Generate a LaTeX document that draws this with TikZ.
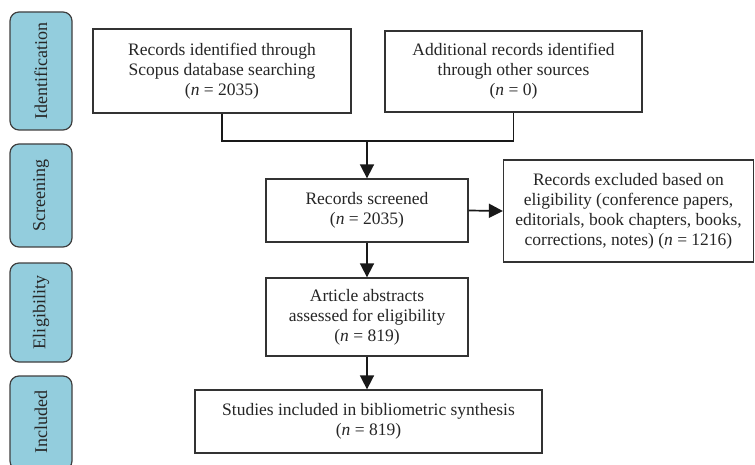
\documentclass[tikz,border=0pt]{standalone}
\usepackage{fontspec}
\setmainfont{Liberation Serif}
\usetikzlibrary{arrows.meta}
\definecolor{sidefill}{HTML}{93CDDD}
\definecolor{sideline}{HTML}{3F3F3F}
\definecolor{boxline}{HTML}{333333}
\begin{document}
\begin{tikzpicture}[x=1pt,y=-1pt,
  sidebox/.style={draw=sideline,fill=sidefill,line width=1.2pt,rounded corners=9pt},
  sidelabel/.style={rotate=90,font=\fontsize{18}{20}\selectfont,text=black!85},
  flowbox/.style={draw=boxline,line width=1.3pt,fill=white,inner sep=0pt,align=center,
    font=\fontsize{17.5}{20}\selectfont,text=black!85},
  conn/.style={line width=1.7pt,draw=black!90},
  arr/.style={conn,-{Triangle[length=14pt,width=14pt]}}]
\useasboundingbox (0,0) rectangle (755,465);
\clip (0,0) rectangle (755,465);
% side stage boxes
\draw[sidebox] (10,12) rectangle (72,130);
\node[sidelabel] (lid) at (41,71) {Identification};
\draw[sidebox] (10,144) rectangle (72,247);
\node[sidelabel] (lsc) at (41,195.5) {Screening};
\draw[sidebox] (10,263) rectangle (72,362);
\node[sidelabel] (lel) at (41,312.5) {Eligibility};
\draw[sidebox] (10,376) rectangle (72,470);
\node[sidelabel] (lin) at (41,422) {Included};
% flow boxes
\node[flowbox,minimum width=258pt,minimum height=84pt] (b1) at (222,71)
  {Records identified through\\Scopus database searching\\(\textit{n} = 2035)};
\node[flowbox,minimum width=257pt,minimum height=81pt] (b2) at (513.5,71.5)
  {Additional records identified\\through other sources\\(\textit{n} = 0)};
\node[flowbox,minimum width=202pt,minimum height=63pt] (scr) at (367,210.5)
  {Records screened\\(\textit{n} = 2035)};
\node[flowbox,minimum width=250pt,minimum height=102pt] (exc) at (628.5,211)
  {Records excluded based on\\eligibility (conference papers,\\editorials, book chapters, books,\\corrections, notes) (\textit{n} = 1216)};
\node[flowbox,minimum width=202pt,minimum height=78pt] (eli) at (367,317)
  {Article abstracts\\assessed for eligibility\\(\textit{n} = 819)};
\node[flowbox,minimum width=347pt,minimum height=63pt] (inc) at (368.5,421.5)
  {Studies included in bibliometric synthesis\\(\textit{n} = 819)};
% connectors
\coordinate (j) at (367,141);
\draw[conn] (b1.south) |- (j) -| (b2.south);
\draw[arr] (j) -- (scr.north);
\draw[arr] (scr.east) -- (exc.west);
\draw[arr] (scr.south) -- (eli.north);
\draw[arr] (eli.south) -- (eli.south |- inc.north);
\end{tikzpicture}
\end{document}
